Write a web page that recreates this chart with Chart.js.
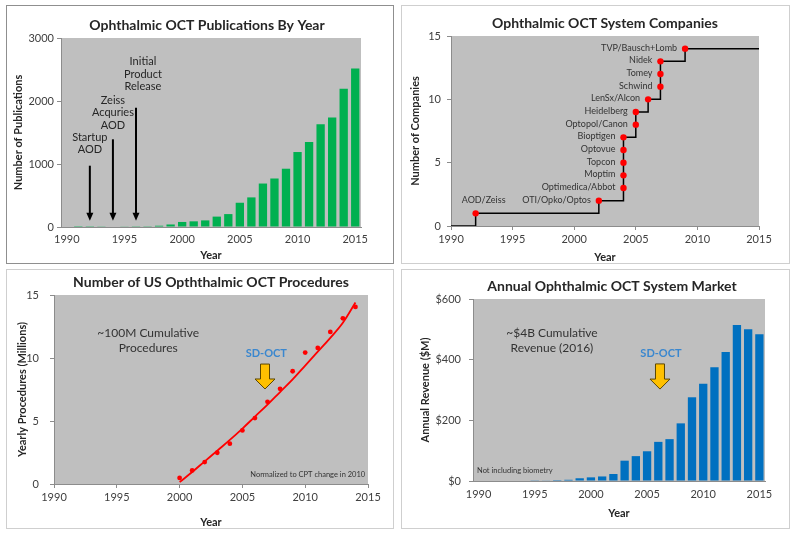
<!DOCTYPE html>
<html>
<head>
<meta charset="utf-8">
<script src="https://cdn.jsdelivr.net/npm/chart.js@4.4.0/dist/chart.umd.min.js"></script>
<style>
  body { margin: 0; background: #fff; width: 797px; height: 537px; position: relative; overflow: hidden; }
  .panel { position: absolute; background: #fff; box-shadow: inset 0 0 0 1px #cfcfcf; }
  .panel canvas { position: absolute; left: 0; top: 0; }
</style>
</head>
<body>
<div class="panel" style="left:6px;top:5px;width:388px;height:259px;box-shadow:inset 0 0 0 1px #8f8f8f"><canvas id="pubChart" width="388" height="259"></canvas></div>
<div class="panel" style="left:401px;top:5px;width:389px;height:259px"><canvas id="companyChart" width="389" height="259"></canvas></div>
<div class="panel" style="left:6px;top:269px;width:388px;height:260px"><canvas id="procChart" width="388" height="260"></canvas></div>
<div class="panel" style="left:401px;top:269px;width:389px;height:260px"><canvas id="marketChart" width="389" height="260"></canvas></div>
<script>
// ---- data ----
const years = ['1990', '1991', '1992', '1993', '1994', '1995', '1996', '1997', '1998', '1999', '2000', '2001', '2002',
    '2003', '2004', '2005', '2006', '2007', '2008', '2009', '2010', '2011', '2012', '2013', '2014', '2015'];
const yearTicks = [1990, 1995, 2000, 2005, 2010, 2015];

// publications per year
const pubCounts = [0, 2, 3, 5, 8, 10, 12, 12, 20, 40, 80, 90, 105, 165, 205, 385, 470, 690, 770, 925,
    1190, 1350, 1630, 1740, 2195, 2515];

// system companies (step chart)
const companyYears = [1990, 1992, 2002, 2004, 2004, 2004, 2004, 2004, 2005, 2005, 2006, 2007, 2007, 2007, 2009, 2015];
const companyCounts = [0, 1, 2, 3, 4, 5, 6, 7, 8, 9, 10, 11, 12, 13, 14, 14];
const companyNames = ['', 'AOD/Zeiss', 'OTI/Opko/Optos', 'Optimedica/Abbot', 'Moptim', 'Topcon', 'Optovue',
    'Bioptigen', 'Optopol/Canon', 'Heidelberg', 'LenSx/Alcon', 'Schwind', 'Tomey', 'Nidek', 'TVP/Bausch+Lomb', ''];

// US procedures (millions)
const procYears = [2000, 2001, 2002, 2003, 2004, 2005, 2006, 2007, 2008, 2009, 2010, 2011, 2012, 2013, 2014];
const procValues = [0.48, 1.08, 1.74, 2.48, 3.2, 4.25, 5.23, 6.52, 7.55, 8.95, 10.43, 10.8, 12.07, 13.15, 14.05];
const procTrend = [0.15, 0.95, 1.8, 2.65, 3.5, 4.4, 5.35, 6.3, 7.3, 8.3, 9.4, 10.5, 11.6, 12.8, 14.4];

// annual market ($M)
const revenue = [0, 0, 0, 0, 0, 1, 2, 3, 4, 9, 12, 15, 23, 67, 82, 98, 129, 138, 190, 276,
    321, 375, 425, 514, 500, 484];

// ---- shared look ----
const FONT = 'Lato, "Open Sans", sans-serif';
const TEXT = '#262626';
const TICK_TEXT = '#404040';
const AXIS = '#8c8c8c';
const PLOT_BG = '#bfbfbf';

Chart.register({
    id: 'plotBackground',
    beforeDraw(chart) {
        const a = chart.chartArea;
        const ctx = chart.ctx;
        ctx.save();
        ctx.fillStyle = PLOT_BG;
        ctx.fillRect(a.left, a.top, a.right - a.left, a.bottom - a.top);
        ctx.restore();
    }
});

Chart.register({
    id: 'panelTitle',
    afterDraw(chart, args, opts) {
        if (!opts.text) return;
        const ctx = chart.ctx;
        ctx.save();
        ctx.font = 'bold 14px ' + FONT;
        ctx.fillStyle = TEXT;
        ctx.textAlign = 'center';
        ctx.textBaseline = 'middle';
        ctx.fillText(opts.text, opts.x, opts.y);
        ctx.restore();
    }
});

function notes(draw) {
    return {
        id: 'notes',
        afterDatasetsDraw(chart) {
            const ctx = chart.ctx;
            ctx.save();
            draw(chart, ctx, chart.scales.x, chart.scales.y);
            ctx.restore();
        }
    };
}

function textLines(ctx, lines, x, y, step) {
    lines.forEach((t, i) => ctx.fillText(t, x, y + i * step));
}

function thinArrow(ctx, x, top, bottom) {
    ctx.strokeStyle = '#000';
    ctx.fillStyle = '#000';
    ctx.lineWidth = 2;
    ctx.beginPath();
    ctx.moveTo(x, top);
    ctx.lineTo(x, bottom - 6);
    ctx.stroke();
    ctx.beginPath();
    ctx.moveTo(x - 3.5, bottom - 8);
    ctx.lineTo(x + 3.5, bottom - 8);
    ctx.lineTo(x, bottom);
    ctx.closePath();
    ctx.fill();
}

function blockArrow(ctx, x, top, bottom) {
    const neck = bottom - 10;
    ctx.beginPath();
    ctx.moveTo(x - 4.5, top);
    ctx.lineTo(x + 4.5, top);
    ctx.lineTo(x + 4.5, neck);
    ctx.lineTo(x + 10, neck);
    ctx.lineTo(x, bottom);
    ctx.lineTo(x - 10, neck);
    ctx.lineTo(x - 4.5, neck);
    ctx.closePath();
    ctx.fillStyle = '#ffc000';
    ctx.fill();
    ctx.strokeStyle = '#5c4600';
    ctx.lineWidth = 1;
    ctx.stroke();
}

function sdOct(ctx, x, y) {
    ctx.font = 'bold 11px ' + FONT;
    ctx.fillStyle = '#3a87cf';
    ctx.textAlign = 'center';
    ctx.textBaseline = 'middle';
    ctx.fillText('SD-OCT', x, y);
}

function xScale(kind, height, titlePadBottom, labelPad) {
    const linear = kind === 'linear';
    const s = {
        type: kind,
        afterFit: sc => { sc.height = height; },
        grid: { drawOnChartArea: false, drawTicks: linear, tickLength: 4, color: AXIS },
        border: { color: AXIS },
        ticks: { color: TICK_TEXT, font: { family: FONT, size: 11 }, padding: labelPad, maxRotation: 0, autoSkip: false },
        title: { display: true, text: 'Year', color: TEXT, font: { family: FONT, size: 11, weight: 'bold' },
            padding: { top: 0, bottom: titlePadBottom } }
    };
    if (linear) {
        s.min = 1990;
        s.max = 2015;
        s.ticks.stepSize = 5;
        s.ticks.callback = v => String(v);
    } else {
        s.ticks.callback = function (v) {
            const lab = this.getLabelForValue(v);
            return yearTicks.includes(Number(lab)) ? lab : '';
        };
    }
    return s;
}

function yScale(width, max, step, title, titlePadTop, labelPad, fmt) {
    return {
        min: 0,
        max: max,
        afterFit: sc => { sc.width = width; },
        grid: { drawOnChartArea: false, tickLength: 4, color: AXIS },
        border: { color: AXIS },
        ticks: { stepSize: step, color: TICK_TEXT, font: { family: FONT, size: 11 }, padding: labelPad,
            callback: fmt || (v => String(v)) },
        title: { display: true, text: title, color: TEXT, font: { family: FONT, size: 11, weight: 'bold' },
            padding: { top: titlePadTop, bottom: 0 } }
    };
}

const common = {
    responsive: false,
    animation: false,
    events: []
};

// Chart 1: publications by year
new Chart(document.getElementById('pubChart'), {
    type: 'bar',
    data: {
        labels: years,
        datasets: [{ data: pubCounts, backgroundColor: '#00b050', barPercentage: 0.72, categoryPercentage: 1 }]
    },
    options: Object.assign({}, common, {
        layout: { padding: { left: 0, right: 33, top: 33, bottom: 0 } },
        plugins: {
            legend: { display: false },
            tooltip: { enabled: false },
            panelTitle: { text: 'Ophthalmic OCT Publications By Year', x: 201, y: 20 }
        },
        scales: {
            x: xScale('category', 37, 2.4, 6),
            y: yScale(55, 3000, 1000, 'Number of Publications', 5.4, 3)
        }
    }),
    plugins: [notes((chart, ctx, x, y) => {
        thinArrow(ctx, x.getPixelForValue(2), y.getPixelForValue(973), y.getPixelForValue(100));
        thinArrow(ctx, x.getPixelForValue(4), y.getPixelForValue(1392), y.getPixelForValue(100));
        thinArrow(ctx, x.getPixelForValue(6), y.getPixelForValue(1894), y.getPixelForValue(100));
        ctx.font = '11px ' + FONT;
        ctx.fillStyle = TEXT;
        ctx.textAlign = 'center';
        ctx.textBaseline = 'middle';
        textLines(ctx, ['Startup', 'AOD'], x.getPixelForValue(2), y.getPixelForValue(1429), 12.5);
        textLines(ctx, ['Zeiss', 'Acquries', 'AOD'], x.getPixelForValue(4), y.getPixelForValue(2016), 12.5);
        textLines(ctx, ['Initial', 'Product', 'Release'], x.getPixelForValue(6.6), y.getPixelForValue(2624), 12.5);
    })]
});

// Chart 2: system companies
new Chart(document.getElementById('companyChart'), {
    type: 'line',
    data: {
        datasets: [{
            data: companyYears.map((yr, i) => ({ x: yr, y: companyCounts[i] })),
            stepped: true,
            borderColor: '#000',
            borderWidth: 1.5,
            pointRadius: ctx => companyNames[ctx.dataIndex] ? 3.2 : 0,
            pointBackgroundColor: '#ff0000',
            pointBorderWidth: 0
        }]
    },
    options: Object.assign({}, common, {
        layout: { padding: { left: 0, right: 31, top: 31, bottom: 0 } },
        plugins: {
            legend: { display: false },
            tooltip: { enabled: false },
            panelTitle: { text: 'Ophthalmic OCT System Companies', x: 204, y: 18 }
        },
        scales: {
            x: xScale('linear', 38, 0.4, 3),
            y: yScale(50, 15, 5, 'Number of Companies', 7.4, 6)
        }
    }),
    plugins: [notes((chart, ctx) => {
        const pts = chart.getDatasetMeta(0).data;
        ctx.font = '9px ' + FONT;
        ctx.fillStyle = '#333';
        ctx.textBaseline = 'middle';
        companyNames.forEach((name, i) => {
            if (!name) return;
            const p = pts[i];
            if (i === 1) {
                ctx.textAlign = 'center';
                ctx.fillText(name, p.x + 8, p.y - 13);
            } else {
                ctx.textAlign = 'right';
                ctx.fillText(name, p.x - 8, p.y - 1);
            }
        });
    })]
});

// Chart 3: US procedures
new Chart(document.getElementById('procChart'), {
    type: 'line',
    data: {
        datasets: [{
            data: procYears.map((yr, i) => ({ x: yr, y: procTrend[i] })),
            borderColor: '#ff0000',
            borderWidth: 1.8,
            tension: 0.4,
            pointRadius: 0
        }, {
            data: procYears.map((yr, i) => ({ x: yr, y: procValues[i] })),
            showLine: false,
            pointRadius: 2.4,
            pointBackgroundColor: '#ff0000',
            pointBorderWidth: 0
        }]
    },
    options: Object.assign({}, common, {
        layout: { padding: { left: 0, right: 26, top: 26, bottom: 0 } },
        plugins: {
            legend: { display: false },
            tooltip: { enabled: false },
            panelTitle: { text: 'Number of US Opththalmic OCT Procedures', x: 205, y: 13 }
        },
        scales: {
            x: xScale('linear', 45, 0.4, 3),
            y: yScale(48, 15, 5, 'Yearly Procedures (Millions)', 9.4, 11)
        }
    }),
    plugins: [notes((chart, ctx, x, y) => {
        ctx.font = '12px ' + FONT;
        ctx.fillStyle = '#333';
        ctx.textAlign = 'center';
        ctx.textBaseline = 'middle';
        textLines(ctx, ['~100M Cumulative', 'Procedures'], x.getPixelForValue(1997.5), y.getPixelForValue(12.0), 15);
        ctx.font = '7.5px ' + FONT;
        ctx.fillText('Normalized to CPT change in 2010', x.getPixelForValue(2010.2), y.getPixelForValue(0.71));
        sdOct(ctx, x.getPixelForValue(2006.9), y.getPixelForValue(10.4));
        blockArrow(ctx, x.getPixelForValue(2006.8), y.getPixelForValue(9.52), y.getPixelForValue(7.54));
    })]
});

// Chart 4: annual market
new Chart(document.getElementById('marketChart'), {
    type: 'bar',
    data: {
        labels: years,
        datasets: [{ data: revenue, backgroundColor: '#0070c0', barPercentage: 0.74, categoryPercentage: 1 }]
    },
    options: Object.assign({}, common, {
        layout: { padding: { left: 0, right: 25, top: 30, bottom: 0 } },
        plugins: {
            legend: { display: false },
            tooltip: { enabled: false },
            panelTitle: { text: 'Annual Ophthalmic OCT System Market', x: 211, y: 17 }
        },
        scales: {
            x: xScale('category', 48, 9.4, 7),
            y: yScale(72, 600, 200, 'Annual Revenue ($M)', 17.4, 8, v => '$' + v)
        }
    }),
    plugins: [notes((chart, ctx, x, y) => {
        ctx.font = '12px ' + FONT;
        ctx.fillStyle = '#333';
        ctx.textAlign = 'center';
        ctx.textBaseline = 'middle';
        textLines(ctx, ['~$4B Cumulative', 'Revenue (2016)'], x.getPixelForValue(6.53), y.getPixelForValue(488), 15);
        ctx.font = '7.5px ' + FONT;
        ctx.textAlign = 'left';
        ctx.fillText('Not including biometry', x.getPixelForValue(-0.14), y.getPixelForValue(33));
        sdOct(ctx, x.getPixelForValue(16.24), y.getPixelForValue(419));
        blockArrow(ctx, x.getPixelForValue(16.15), y.getPixelForValue(386), y.getPixelForValue(303));
    })]
});
</script>
</body>
</html>
